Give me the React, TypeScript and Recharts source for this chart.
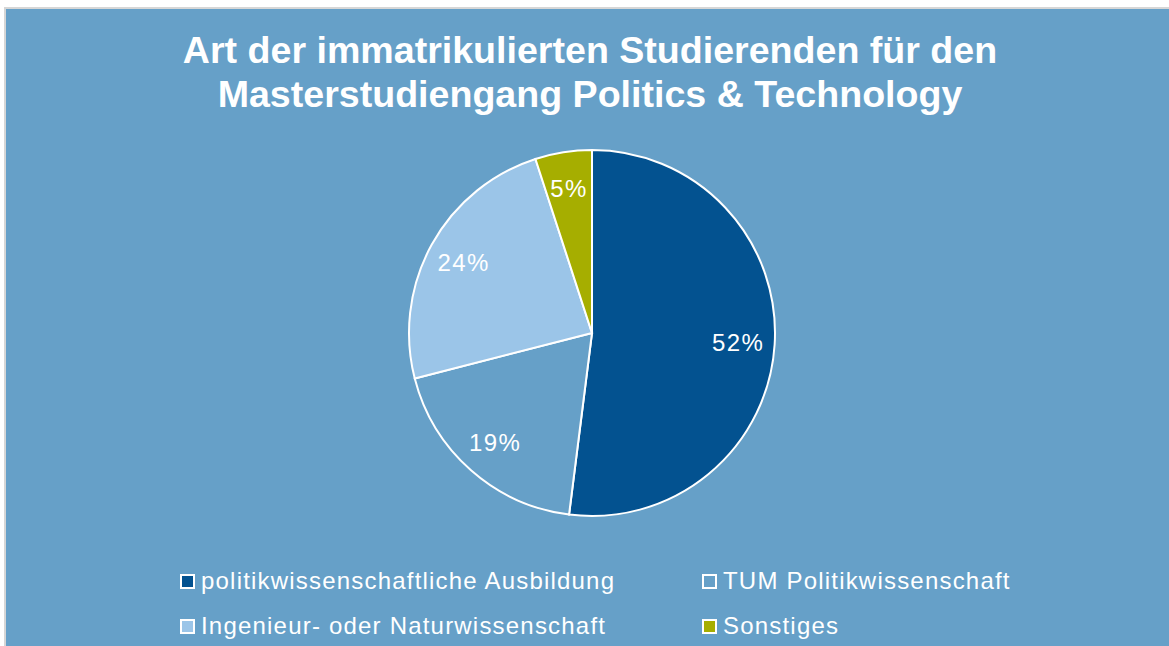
import React from 'react';
import { PieChart, Pie, Cell, Legend } from 'recharts';

const titleLines = ['Art der immatrikulierten Studierenden für den', 'Masterstudiengang Politics & Technology'];
const categories = [
  'politikwissenschaftliche Ausbildung',
  'TUM Politikwissenschaft',
  'Ingenieur- oder Naturwissenschaft',
  'Sonstiges',
];
const shares = [52, 19, 24, 5];
const sliceColors = ['#035290', '#66a0c8', '#9bc5e8', '#a6ae00'];

const data = categories.map((name, i) => ({ name, value: shares[i] }));

const FONT = '"Liberation Sans", Arial, "DejaVu Sans", sans-serif';
const BG = '#66a0c8';
const RADIAN = Math.PI / 180;

const renderLabel = (props: any) => {
  const { cx, cy, midAngle, outerRadius, value } = props;
  const r = outerRadius * 0.8;
  const x = cx + r * Math.cos(-midAngle * RADIAN);
  const y = cy + r * Math.sin(-midAngle * RADIAN);
  return (
    <text
      x={x}
      y={y}
      fill="#ffffff"
      textAnchor="middle"
      dominantBaseline="central"
      style={{ fontFamily: FONT, fontSize: 24, letterSpacing: 1.4 }}
    >
      {`${value}%`}
    </text>
  );
};

const renderLegend = (props: any) => {
  const payload = [...(props.payload || [])].sort(
    (a: any, b: any) => categories.indexOf(a.value) - categories.indexOf(b.value)
  );
  const colLefts = [180, 702];
  return (
    <div style={{ position: 'relative', width: 1169, height: 86 }}>
      {payload.map((entry: any, i: number) => {
        const col = i % 2;
        const row = Math.floor(i / 2);
        return (
          <div
            key={`leg-${i}`}
            style={{
              position: 'absolute',
              left: colLefts[col],
              top: 9 + row * 45,
              display: 'flex',
              alignItems: 'center',
              height: 24,
              lineHeight: '24px',
              fontFamily: FONT,
              fontSize: 24,
              letterSpacing: 1.2,
              color: '#ffffff',
              whiteSpace: 'nowrap',
            }}
          >
            <span
              style={{
                display: 'inline-block',
                width: 11,
                height: 11,
                border: '2px solid #ffffff',
                background: entry.color,
                marginRight: 6,
                marginTop: 1,
              }}
            />
            <span>{entry.value}</span>
          </div>
        );
      })}
    </div>
  );
};

export default function App() {
  return (
    <div
      style={{
        position: 'absolute',
        left: 0,
        top: 0,
        width: 1169,
        height: 646,
        background: '#ffffff',
        overflow: 'hidden',
      }}
    >
      <div
        style={{
          position: 'absolute',
          left: 4,
          top: 7,
          width: 1200,
          height: 700,
          border: '2px solid #d6d6d6',
          background: BG,
        }}
      />
      <div
        style={{
          position: 'absolute',
          left: 0,
          top: 28,
          width: 1180,
          textAlign: 'center',
          fontFamily: FONT,
          fontWeight: 'bold',
          fontSize: 37.6,
          lineHeight: '44px',
          color: '#ffffff',
        }}
      >
        {titleLines.map((t, i) => (
          <div key={i}>{t}</div>
        ))}
      </div>
      <div style={{ position: 'absolute', left: 0, top: 0 }}>
        <PieChart width={1169} height={646} margin={{ top: 0, right: 0, bottom: 0, left: 0 }}>
          <Pie
            data={data}
            dataKey="value"
            nameKey="name"
            cx={592}
            cy={333}
            outerRadius={183}
            startAngle={90}
            endAngle={-270}
            stroke="#ffffff"
            strokeWidth={2}
            label={renderLabel}
            labelLine={false}
            isAnimationActive={false}
          >
            {data.map((d, i) => (
              <Cell key={d.name} fill={sliceColors[i]} />
            ))}
          </Pie>
          <Legend
            content={renderLegend}
            itemSorter={null as any}
            wrapperStyle={{ position: 'absolute', left: 0, top: 560, width: 1169, height: 86 }}
          />
        </PieChart>
      </div>
    </div>
  );
}
